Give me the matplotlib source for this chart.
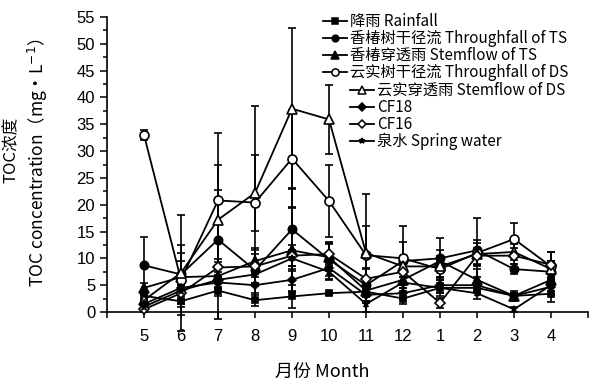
import numpy as np
import matplotlib
matplotlib.use("Agg")
import matplotlib.pyplot as plt
from matplotlib.lines import Line2D

months = ["5", "6", "7", "8", "9", "10", "11", "12", "1", "2", "3", "4"]

rainfall = [3.0, 2.0, 4.0, 2.2, 2.9, 3.5, 3.8, 2.5, 4.5, 4.5, 3.0, 3.4]
rainfall_err = [1.0, 2.5, 5.3, 1.0, 2.2, 0.3, 1.0, 1.0, 1.5, 1.0, 0.5, 1.5]

ts_through = [8.7, 7.0, 13.5, 7.8, 15.4, 9.8, 5.0, 9.5, 10.0, 11.5, 8.0, 7.5]
ts_through_err = [5.3, 5.5, 9.3, 3.0, 7.8, 3.0, 3.0, 6.5, 3.8, 6.0, 1.0, 2.0]

ts_stem = [4.5, 6.5, 6.7, 9.5, 11.5, 10.2, 4.0, 6.0, 9.5, 6.0, 3.0, 6.0]
ts_stem_err = [1.0, 3.0, 2.0, 2.5, 7.8, 2.5, 2.0, 2.0, 2.0, 2.0, 1.0, 2.0]

ds_through = [33.0, 6.0, 20.8, 20.4, 28.6, 20.7, 10.6, 10.0, 8.0, 11.0, 13.6, 8.5]
ds_through_err = [1.0, 5.0, 12.5, 18.0, 9.0, 6.8, 5.4, 3.0, 2.0, 2.5, 3.0, 2.7]

ds_stem = [2.2, 7.3, 17.2, 22.2, 37.9, 35.9, 11.0, 8.5, 8.5, 10.8, 11.2, 8.0]
ds_stem_err = [1.0, 10.8, 10.3, 7.1, 15.0, 6.5, 11.0, 2.0, 2.0, 2.0, 1.5, 1.5]

cf18 = [1.5, 4.5, 5.5, 5.0, 6.0, 8.2, 3.2, 3.5, 5.0, 5.0, 3.0, 4.7]
cf18_err = [1.0, 2.0, 2.5, 1.5, 2.0, 2.0, 1.5, 1.0, 1.5, 1.5, 0.5, 1.5]

cf16 = [0.5, 3.5, 8.3, 8.5, 10.5, 10.8, 6.2, 7.5, 1.7, 10.5, 10.5, 8.8]
cf16_err = [0.5, 1.5, 1.5, 3.0, 2.0, 2.3, 2.0, 2.0, 1.0, 1.5, 1.5, 2.4]

spring = [1.0, 4.0, 6.0, 7.0, 10.0, 7.5, 1.5, 5.5, 4.5, 3.5, 0.5, 5.0]
spring_err = [0.5, 1.0, 1.5, 1.5, 1.5, 1.5, 1.5, 1.0, 1.0, 1.0, 0.5, 1.0]

cjk = ["Noto Sans CJK SC", "DejaVu Sans"]
plt.rcParams["font.family"] = ["Liberation Sans", "DejaVu Sans"]

# (label, values, errors, marker, filled, size)
series = [
    ("降雨 Rainfall", rainfall, rainfall_err, "s", True, 5),
    ("香椿树干径流 Throughfall of TS", ts_through, ts_through_err, "o", True, 6),
    ("香椿穿透雨 Stemflow of TS", ts_stem, ts_stem_err, "^", True, 6.5),
    ("云实树干径流 Throughfall of DS", ds_through, ds_through_err, "o", False, 6.5),
    ("云实穿透雨 Stemflow of DS", ds_stem, ds_stem_err, "^", False, 7.5),
    ("CF18", cf18, cf18_err, "D", True, 4.5),
    ("CF16", cf16, cf16_err, "D", False, 5.5),
    ("泉水 Spring water", spring, spring_err, "*", True, 5),
]

fig = plt.figure(figsize=(5.89, 3.84), dpi=100)
ax = fig.add_axes([107 / 589, 1 - 312 / 384, 481 / 589, 295 / 384])

x = np.arange(len(months))
handles = []
for label, vals, errs, mk, filled, ms in series:
    fc = "black" if filled else "white"
    ax.errorbar(x, vals, yerr=errs, fmt="-", marker=mk, color="black", mfc=fc,
                mec="black", ms=ms, mew=1.2, lw=1.3, elinewidth=1.2, capsize=3,
                capthick=1.2, clip_on=False, zorder=3)
    handles.append(Line2D([], [], color="black", lw=1.3, marker=mk, mfc=fc,
                          mec="black", ms=ms * 0.8, mew=1.1))

ax.set_xlim(-1, 12)
ax.set_ylim(0, 55)
ax.set_xticks(np.arange(-1, 13))
ax.set_xticklabels([""] + months + [""])
ax.set_yticks(np.arange(0, 56, 5))
ax.set_yticks(np.arange(2.5, 55, 5), minor=True)
ax.tick_params(axis="both", direction="out", width=1.1, labelsize=12, colors="black")
ax.tick_params(axis="y", which="major", length=5)
ax.tick_params(axis="y", which="minor", length=3, width=1.1)
ax.tick_params(axis="x", length=4, pad=8)
for s in ["top", "right"]:
    ax.spines[s].set_visible(False)
for s in ["left", "bottom"]:
    ax.spines[s].set_linewidth(1.2)

fig.text(11 / 589, 1 - 150 / 384, "TOC浓度", rotation=90, ha="center", va="center",
         fontsize=12, family=cjk)
fig.text(38 / 589, 1 - 163 / 384, "TOC concentration（mg·L$^{-1}$）", rotation=90,
         ha="center", va="center", fontsize=12.5, family=cjk)
fig.text(322 / 589, 1 - 372 / 384, "月份 Month", ha="center", va="center",
         fontsize=13, family=cjk)

leg_kw = dict(loc="upper left", frameon=False, prop={"family": cjk, "size": 11},
              handlelength=1.6, handletextpad=0.15, labelspacing=0.0,
              borderpad=0, borderaxespad=0)
leg1 = fig.legend(handles[:4], [s[0] for s in series[:4]],
                  bbox_to_anchor=(323 / 589, 1 - 13 / 384), **leg_kw)
fig.legend(handles[4:], [s[0] for s in series[4:]],
           bbox_to_anchor=(350 / 589, 1 - 82 / 384), **leg_kw)

fig.savefig("out.png", dpi=100)
